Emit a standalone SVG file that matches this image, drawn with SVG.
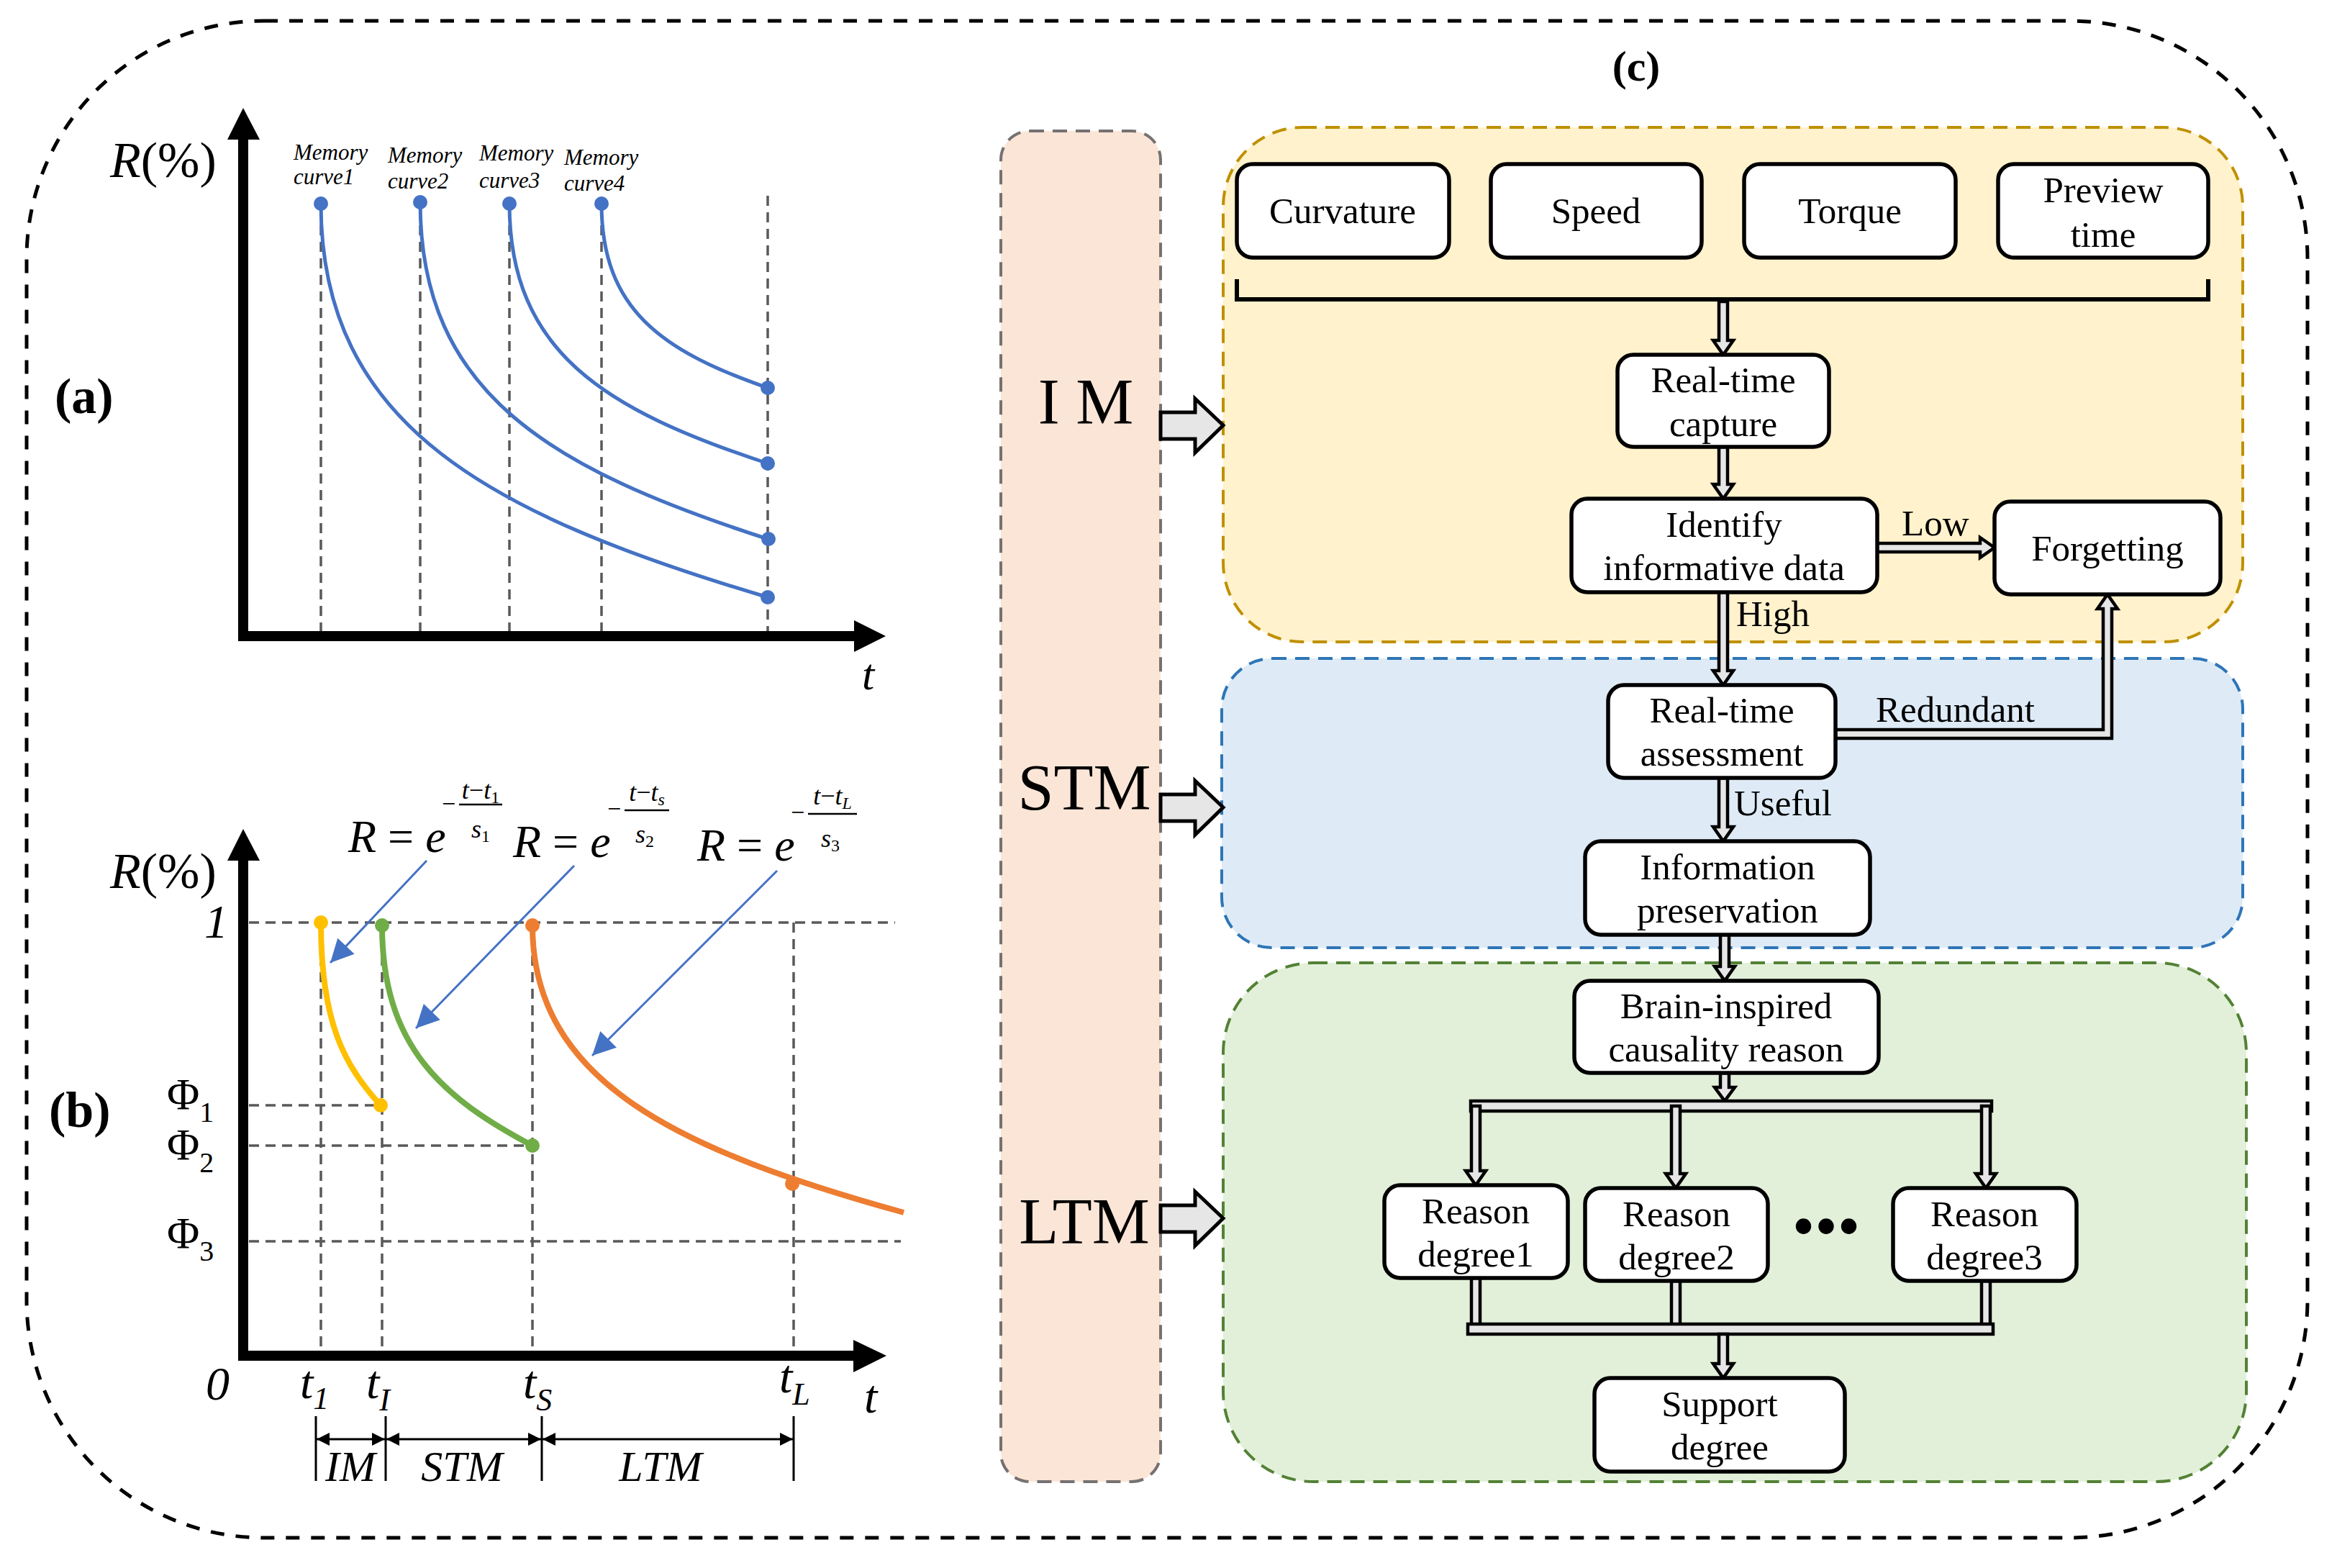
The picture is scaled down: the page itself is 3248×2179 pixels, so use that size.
<svg xmlns="http://www.w3.org/2000/svg" width="3248" height="2179" viewBox="0 0 3248 2179">
<defs>
<style>
text{font-family:"Liberation Serif","Times New Roman",serif;fill:#000}
.it{font-style:italic}
.bold{font-weight:bold}
.box{fill:#fff;stroke:#000;stroke-width:5.5}
.bt{font-size:51px;text-anchor:middle}
.lbl{font-size:51px}
.grid{stroke:#595959;stroke-width:3.5;stroke-dasharray:14 9;fill:none}
.axis{stroke:#000;stroke-width:14;fill:none}
.blue{stroke:#4472C4;stroke-width:5;fill:none}
.da{fill:#E7E6E6;stroke:#000;stroke-width:4.5;stroke-linejoin:miter}
.big{fill:#E7E6E6;stroke:#000;stroke-width:5;stroke-linejoin:miter}
.side{font-size:90px;text-anchor:middle}
</style>
<marker id="bh" viewBox="0 0 10 10" refX="10" refY="5" markerWidth="38" markerHeight="32" markerUnits="userSpaceOnUse" orient="auto"><path d="M0,0 L10,5 L0,10 z" fill="#4472C4"/></marker>
<marker id="kh" viewBox="0 0 10 10" refX="10" refY="5" markerWidth="20" markerHeight="18" markerUnits="userSpaceOnUse" orient="auto-start-reverse"><path d="M0,0 L10,5 L0,10 z" fill="#000"/></marker>
</defs>
<rect width="3248" height="2179" fill="#fff"/>
<rect id="frame" x="37" y="29" width="3170" height="2108" rx="330" fill="none" stroke="#000" stroke-width="5" stroke-dasharray="19 16"/>

<!-- Panel (a) -->
<g id="panel-a">
<text x="76" y="574" class="bold" font-size="70">(a)</text>
<text x="153" y="246" font-size="70"><tspan class="it">R</tspan>(%)</text>
<g class="grid">
<line x1="446" y1="290" x2="446" y2="880"/>
<line x1="584" y1="290" x2="584" y2="880"/>
<line x1="708" y1="290" x2="708" y2="880"/>
<line x1="836" y1="290" x2="836" y2="880"/>
<line x1="1067" y1="272" x2="1067" y2="880"/>
</g>
<path class="axis" d="M338,190 V884 H1190"/>
<polygon points="316,194 338,150 361,194" fill="#000"/>
<polygon points="1187,862 1231,884 1187,906" fill="#000"/>
<text x="1198" y="958" class="it" font-size="62">t</text>
<g class="blue">
<path d="M446,283 C446,594 684,716 1067,830"/>
<path d="M584,281 C584,548 767,652 1067,749"/>
<path d="M708,283 C708,490 842,570 1067,644"/>
<path d="M836,283 C836,430 920,488 1067,539"/>
</g>
<g fill="#4472C4">
<circle cx="446" cy="283" r="10"/><circle cx="584" cy="281" r="10"/><circle cx="708" cy="283" r="10"/><circle cx="836" cy="283" r="10"/>
<circle cx="1067" cy="539" r="10"/><circle cx="1067" cy="644" r="10"/><circle cx="1068" cy="749" r="10"/><circle cx="1067" cy="830" r="10"/>
</g>
<g class="it" font-size="31">
<text x="408" y="222">Memory</text><text x="408" y="256">curve1</text>
<text x="539" y="226">Memory</text><text x="539" y="262">curve2</text>
<text x="666" y="223">Memory</text><text x="666" y="261">curve3</text>
<text x="784" y="229">Memory</text><text x="784" y="265">curve4</text>
</g>
</g>

<!-- Panel (b) -->
<g id="panel-b">
<text x="68" y="1566" class="bold" font-size="70">(b)</text>
<text x="153" y="1234" font-size="70"><tspan class="it">R</tspan>(%)</text>
<text x="284" y="1303" class="it" font-size="66">1</text>
<text x="232" y="1541" font-size="62">Φ<tspan font-size="40" dy="18">1</tspan></text>
<text x="232" y="1611" font-size="62">Φ<tspan font-size="40" dy="18">2</tspan></text>
<text x="232" y="1734" font-size="62">Φ<tspan font-size="40" dy="18">3</tspan></text>
<g class="grid">
<line x1="346" y1="1282" x2="1244" y2="1282"/>
<line x1="346" y1="1536" x2="529" y2="1536"/>
<line x1="346" y1="1592" x2="740" y2="1592"/>
<line x1="346" y1="1725" x2="1252" y2="1725"/>
<line x1="446" y1="1282" x2="446" y2="1876"/>
<line x1="531" y1="1282" x2="531" y2="1876"/>
<line x1="740" y1="1282" x2="740" y2="1876"/>
<line x1="1103" y1="1282" x2="1103" y2="1876"/>
</g>
<path class="axis" d="M338,1196 V1884 H1190"/>
<polygon points="316,1196 338,1152 361,1196" fill="#000"/>
<polygon points="1186,1862 1232,1884 1186,1907" fill="#000"/>
<path d="M446,1282 C446,1422 479,1481 529,1536" fill="none" stroke="#FFC000" stroke-width="8"/>
<path d="M531,1286 C531,1454 615,1526 740,1592" fill="none" stroke="#70AD47" stroke-width="8"/>
<path d="M740,1286 C740,1505 946,1599 1256,1685" fill="none" stroke="#ED7D31" stroke-width="8"/>
<circle cx="446" cy="1282" r="10" fill="#FFC000"/><circle cx="529" cy="1536" r="10" fill="#FFC000"/>
<circle cx="531" cy="1286" r="10" fill="#70AD47"/><circle cx="740" cy="1592" r="10" fill="#70AD47"/>
<circle cx="740" cy="1286" r="10" fill="#ED7D31"/><circle cx="1101" cy="1645" r="10" fill="#ED7D31"/>
<!-- formulas -->
<text x="484" y="1184" font-size="64"><tspan class="it">R</tspan> = <tspan class="it">e</tspan></text>
<text x="614" y="1128" font-size="34">−</text>
<line x1="638" y1="1118" x2="698" y2="1118" stroke="#000" stroke-width="2.5"/>
<text x="668" y="1110" font-size="36" text-anchor="middle"><tspan class="it">t</tspan>−<tspan class="it">t</tspan><tspan font-size="24" dy="6">1</tspan></text>
<text x="668" y="1164" font-size="36" text-anchor="middle"><tspan class="it">s</tspan><tspan font-size="24" dy="6">1</tspan></text>
<text x="713" y="1191" font-size="64"><tspan class="it">R</tspan> = <tspan class="it">e</tspan></text>
<text x="844" y="1135" font-size="34">−</text>
<line x1="868" y1="1126" x2="930" y2="1126" stroke="#000" stroke-width="2.5"/>
<text x="899" y="1113" font-size="36" text-anchor="middle"><tspan class="it">t</tspan>−<tspan class="it">t</tspan><tspan class="it" font-size="24" dy="6">s</tspan></text>
<text x="896" y="1171" font-size="36" text-anchor="middle"><tspan class="it">s</tspan><tspan font-size="24" dy="6">2</tspan></text>
<text x="969" y="1196" font-size="64"><tspan class="it">R</tspan> = <tspan class="it">e</tspan></text>
<text x="1099" y="1140" font-size="34">−</text>
<line x1="1123" y1="1131" x2="1191" y2="1131" stroke="#000" stroke-width="2.5"/>
<text x="1157" y="1118" font-size="36" text-anchor="middle"><tspan class="it">t</tspan>−<tspan class="it">t</tspan><tspan class="it" font-size="24" dy="6">L</tspan></text>
<text x="1154" y="1177" font-size="36" text-anchor="middle"><tspan class="it">s</tspan><tspan font-size="24" dy="6">3</tspan></text>
<g stroke="#4472C4" stroke-width="3" fill="none" marker-end="url(#bh)">
<line x1="593" y1="1196" x2="459" y2="1338"/>
<line x1="798" y1="1203" x2="578" y2="1429"/>
<line x1="1080" y1="1210" x2="823" y2="1467"/>
</g>
<!-- x labels -->
<text x="286" y="1945" class="it" font-size="66">0</text>
<text x="417" y="1943" class="it" font-size="66">t<tspan font-size="44" dy="15">1</tspan></text>
<text x="509" y="1943" class="it" font-size="66">t<tspan font-size="44" dy="17">I</tspan></text>
<text x="727" y="1943" class="it" font-size="66">t<tspan font-size="44" dy="17">S</tspan></text>
<text x="1083" y="1935" class="it" font-size="66">t<tspan font-size="44" dy="17">L</tspan></text>
<text x="1201" y="1963" class="it" font-size="66">t</text>
<g stroke="#000" stroke-width="3">
<line x1="439" y1="1968" x2="439" y2="2058"/>
<line x1="536" y1="1968" x2="536" y2="2058"/>
<line x1="753" y1="1968" x2="753" y2="2058"/>
<line x1="1103" y1="1968" x2="1103" y2="2058"/>
</g>
<g stroke="#000" stroke-width="3" marker-start="url(#kh)" marker-end="url(#kh)">
<line x1="440" y1="2000" x2="535" y2="2000"/>
<line x1="537" y1="2000" x2="752" y2="2000"/>
<line x1="754" y1="2000" x2="1102" y2="2000"/>
</g>
<g class="it" font-size="60" text-anchor="middle">
<text x="487" y="2058">IM</text>
<text x="642" y="2058">STM</text>
<text x="918" y="2058">LTM</text>
</g>
</g>

<!-- Panel (c) -->
<g id="panel-c">
<text x="2274" y="112" class="bold" font-size="60" text-anchor="middle">(c)</text>
<g id="stage-column">
<rect x="1391" y="182" width="222" height="1877" rx="40" fill="#FBE5D6" stroke="#767171" stroke-width="4" stroke-dasharray="20 12"/>
<text x="1509" y="589" class="side">I M</text>
<text x="1507" y="1125" class="side">STM</text>
<text x="1507" y="1728" class="side">LTM</text>
</g>
<g id="group-im"><rect x="1700" y="177" width="1417" height="715" rx="110" fill="#FFF2CC" stroke="#BF9000" stroke-width="4" stroke-dasharray="20 12"/></g>
<g id="group-stm"><rect x="1698" y="915" width="1419" height="402" rx="70" fill="#DEEBF7" stroke="#2E75B6" stroke-width="4" stroke-dasharray="20 12"/></g>
<g id="group-ltm"><rect x="1700" y="1338" width="1422" height="721" rx="125" fill="#E2F0D9" stroke="#538135" stroke-width="4" stroke-dasharray="20 12"/></g>

<g id="connectors">
<polygon class="big" points="1613,573 1661,573 1661,554 1700,591 1661,629 1661,610 1613,610"/>
<polygon class="big" points="1613,1104 1661,1104 1661,1085 1700,1122 1661,1160 1661,1141 1613,1141"/>
<polygon class="big" points="1613,1675 1661,1675 1661,1656 1700,1693 1661,1731 1661,1712 1613,1712"/>
<path d="M1719,388 V416 H3069 V388" fill="none" stroke="#000" stroke-width="6"/>
<polygon class="da" points="2389,419 2401,419 2401,473 2409,473 2395,493 2381,473 2389,473"/>
<polygon class="da" points="2389,621 2401,621 2401,673 2409,673 2395,693 2381,673 2389,673"/>
<polygon class="da" points="2389,823 2401,823 2401,932 2409,932 2395,952 2381,932 2389,932"/>
<polygon class="da" points="2389,1081 2401,1081 2401,1149 2409,1149 2395,1169 2381,1149 2389,1149"/>
<polygon class="da" points="2391,1299 2403,1299 2403,1343 2411,1343 2397,1363 2383,1343 2391,1343"/>
<polygon class="da" points="2391,1491 2403,1491 2403,1511 2411,1511 2397,1530 2383,1511 2391,1511"/>
<polygon class="da" points="2609,755 2752,755 2752,747 2772,761 2752,775 2752,767 2609,767"/>
<polygon class="da" points="2551,1014 2923,1014 2923,846 2915,846 2929,826 2943,846 2935,846 2935,1026 2551,1026"/>
<rect class="da" x="2044" y="1530" width="724" height="14"/>
<polygon class="da" points="2045,1537 2057,1537 2057,1627 2065,1627 2051,1647 2037,1627 2045,1627"/>
<polygon class="da" points="2323,1537 2335,1537 2335,1631 2343,1631 2329,1651 2315,1631 2323,1631"/>
<polygon class="da" points="2754,1537 2766,1537 2766,1631 2774,1631 2760,1651 2746,1631 2754,1631"/>
<rect class="da" x="2045" y="1776" width="12" height="71"/>
<rect class="da" x="2323" y="1780" width="12" height="67"/>
<rect class="da" x="2754" y="1780" width="12" height="67"/>
<rect class="da" x="2040" y="1840" width="730" height="14"/>
<polygon class="da" points="2389,1854 2401,1854 2401,1895 2409,1895 2395,1915 2381,1895 2389,1895"/>
<text x="2643" y="744" class="lbl">Low</text>
<text x="2413" y="870" class="lbl">High</text>
<text x="2607" y="1003" class="lbl">Redundant</text>
<text x="2410" y="1133" class="lbl">Useful</text>
</g>

<g id="n-curvature"><rect class="box" x="1719" y="228" width="295" height="130" rx="22"/><text class="bt" x="1866" y="310">Curvature</text></g>
<g id="n-speed"><rect class="box" x="2072" y="228" width="293" height="130" rx="22"/><text class="bt" x="2218" y="310">Speed</text></g>
<g id="n-torque"><rect class="box" x="2424" y="228" width="294" height="130" rx="22"/><text class="bt" x="2571" y="310">Torque</text></g>
<g id="n-preview"><rect class="box" x="2777" y="228" width="292" height="130" rx="22"/><text class="bt" x="2923" y="281">Preview</text><text class="bt" x="2923" y="343">time</text></g>
<g id="n-capture"><rect class="box" x="2248" y="493" width="294" height="128" rx="22"/><text class="bt" x="2395" y="545">Real-time</text><text class="bt" x="2395" y="606">capture</text></g>
<g id="n-identify"><rect class="box" x="2184" y="693" width="425" height="130" rx="22"/><text class="bt" x="2396" y="746">Identify</text><text class="bt" x="2396" y="806">informative data</text></g>
<g id="n-forgetting"><rect class="box" x="2772" y="697" width="314" height="129" rx="22"/><text class="bt" x="2929" y="779">Forgetting</text></g>
<g id="n-assessment"><rect class="box" x="2235" y="952" width="316" height="129" rx="22"/><text class="bt" x="2393" y="1004">Real-time</text><text class="bt" x="2393" y="1064">assessment</text></g>
<g id="n-preservation"><rect class="box" x="2203" y="1169" width="396" height="130" rx="22"/><text class="bt" x="2401" y="1222">Information</text><text class="bt" x="2401" y="1282">preservation</text></g>
<g id="n-brain"><rect class="box" x="2188" y="1363" width="423" height="128" rx="22"/><text class="bt" x="2399" y="1415">Brain-inspired</text><text class="bt" x="2399" y="1475">causality reason</text></g>
<g id="n-reason1"><rect class="box" x="1924" y="1647" width="255" height="129" rx="22"/><text class="bt" x="2051" y="1700">Reason</text><text class="bt" x="2051" y="1760">degree1</text></g>
<g id="n-reason2"><rect class="box" x="2203" y="1651" width="254" height="129" rx="22"/><text class="bt" x="2330" y="1704">Reason</text><text class="bt" x="2330" y="1764">degree2</text></g>
<text x="2538" y="1734" font-size="90" text-anchor="middle">•••</text>
<g id="n-reason3"><rect class="box" x="2631" y="1651" width="255" height="129" rx="22"/><text class="bt" x="2758" y="1704">Reason</text><text class="bt" x="2758" y="1764">degree3</text></g>
<g id="n-support"><rect class="box" x="2216" y="1915" width="348" height="130" rx="22"/><text class="bt" x="2390" y="1968">Support</text><text class="bt" x="2390" y="2028">degree</text></g>
</g>
</svg>
